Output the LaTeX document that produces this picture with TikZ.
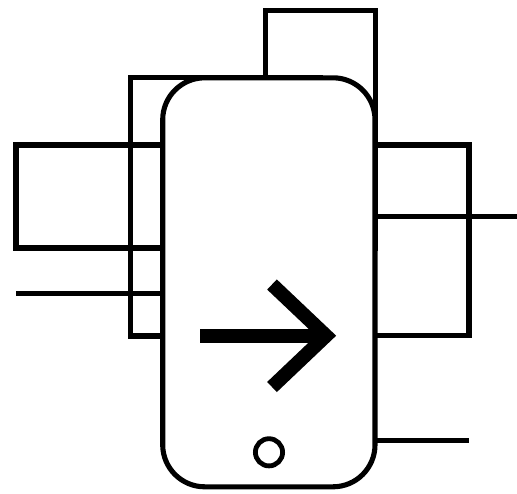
\documentclass[tikz,border=0pt]{standalone}
\tikzset{
  outline/.style={draw=black,line width=5.1pt,line join=miter,fill=none},
  wire/.style={draw=black,line width=5pt},
  phonebody/.style={draw=black,fill=white,line width=5.1pt,rounded corners=42pt},
  bigarrow/.style={draw=black,line width=14pt,line join=miter,miter limit=10}
}
\begin{document}
\begin{tikzpicture}[x=1pt,y=-1pt]
\useasboundingbox (0,0) rectangle (517,493);
% frames behind the phone
\draw[outline] (265.3,10.5) rectangle (375.5,248);
\draw[outline] (130.5,77.8) rectangle (320,336);
\draw[outline] (16,145) rectangle (200,248);
\draw[outline] (300,145) rectangle (469,335.5);
\draw[wire] (16,293.4) -- (200,293.4);
\draw[wire] (300,216) -- (517,216);
\draw[wire] (300,440) -- (469,440);
% phone
\draw[phonebody] (162.7,77.8) rectangle (375,486.8);
% home button and arrow
\draw[draw=black,fill=white,line width=4.8pt] (269,452.3) circle[radius=13.6];
\draw[bigarrow] (200,335.7) -- (326,335.7);
\draw[bigarrow] (272,284.5) -- (326,335.7) -- (272,387);
\end{tikzpicture}
\end{document}
